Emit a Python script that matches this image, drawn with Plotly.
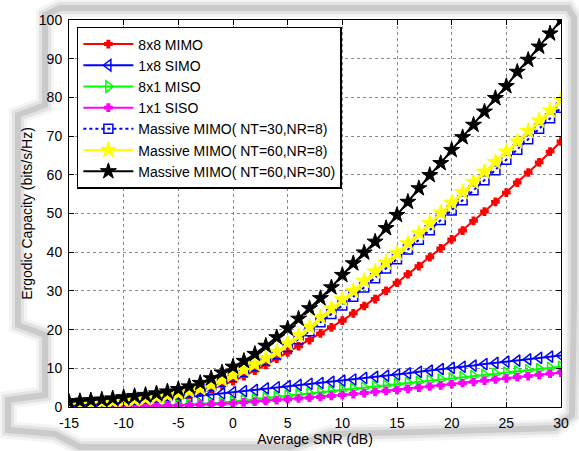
import plotly.graph_objects as go

snr_db = list(range(-15, 31))

mimo_8x8 = [0.3, 0.4, 0.5, 0.6, 0.7, 0.9, 1.1, 1.4, 1.7, 2.1, 2.5, 3.1, 3.8, 4.6, 5.6, 6.7,
            8.0, 9.4, 10.9, 12.5, 14.1, 15.7, 17.3, 19.0, 20.6, 22.3, 24.2, 26.1, 27.9, 30.0, 32.1,
            34.3, 36.4, 38.7, 41.0, 43.3, 45.6, 48.1, 50.5, 53.0, 55.4, 58.0, 60.6, 63.2, 66.0, 68.6]
simo_1x8 = [0.4, 0.5, 0.6, 0.7, 0.8, 1.0, 1.2, 1.4, 1.7, 2.0, 2.3, 2.6, 2.9, 3.2, 3.5, 3.8,
            4.1, 4.4, 4.8, 5.1, 5.4, 5.7, 6.0, 6.2, 6.5, 6.8, 7.1, 7.5, 7.8, 8.1, 8.4,
            8.7, 9.1, 9.4, 9.8, 10.1, 10.4, 10.7, 11.1, 11.4, 11.7, 12.0, 12.3, 12.7, 13.0, 13.3]
miso_8x1 = [0.05, 0.06, 0.08, 0.1, 0.12, 0.15, 0.2, 0.25, 0.3, 0.4, 0.5, 0.6, 0.75, 0.9, 1.1, 1.4,
            1.7, 2.0, 2.3, 2.6, 2.9, 3.2, 3.5, 3.8, 4.1, 4.4, 4.7, 5.0, 5.3, 5.6, 5.9,
            6.2, 6.5, 6.8, 7.1, 7.4, 7.7, 8.0, 8.3, 8.6, 8.9, 9.2, 9.5, 9.8, 10.1, 10.4]
siso_1x1 = [0.05, 0.06, 0.07, 0.09, 0.11, 0.14, 0.17, 0.21, 0.26, 0.32, 0.4, 0.5, 0.6, 0.7, 0.85, 1.0,
            1.2, 1.4, 1.6, 1.8, 2.0, 2.2, 2.4, 2.6, 2.85, 3.1, 3.35, 3.6, 3.9, 4.15, 4.4,
            4.7, 5.0, 5.3, 5.6, 5.9, 6.2, 6.5, 6.8, 7.1, 7.4, 7.7, 8.0, 8.3, 8.6, 8.9]
mm_30_8 = [1.0, 1.1, 1.2, 1.3, 1.5, 1.7, 1.9, 2.2, 2.5, 2.9, 3.3, 3.8, 4.5, 5.4, 6.5, 7.8,
           9.1, 10.5, 12.0, 13.6, 15.5, 17.5, 19.6, 21.9, 24.0, 26.2, 28.5, 30.9, 33.3, 35.8, 38.2,
           40.7, 43.2, 45.7, 48.3, 50.8, 53.4, 56.0, 58.6, 61.2, 63.9, 66.5, 69.2, 71.9, 74.6, 77.3]
mm_60_8 = [0.8, 0.9, 1.0, 1.2, 1.4, 1.6, 1.9, 2.2, 2.6, 3.0, 3.5, 4.1, 4.8, 5.8, 7.0, 8.3,
           9.6, 11.0, 12.6, 14.3, 16.4, 18.5, 20.7, 23.2, 25.5, 27.8, 30.0, 32.6, 35.0, 37.3, 39.7,
           42.3, 44.9, 47.5, 50.2, 52.8, 55.5, 58.1, 60.8, 63.3, 66.0, 68.6, 71.3, 74.0, 76.6, 79.3]
mm_60_30 = [1.3, 1.5, 1.7, 1.9, 2.2, 2.5, 2.8, 3.1, 3.5, 4.0, 4.6, 5.3, 6.2, 7.4, 8.9, 10.4,
            11.9, 13.7, 15.8, 18.0, 20.3, 22.8, 25.5, 28.1, 30.9, 34.1, 37.1, 39.9, 42.7, 46.2, 49.6,
            53.0, 56.5, 59.9, 63.0, 66.4, 69.7, 72.9, 76.3, 79.8, 82.9, 86.6, 89.7, 93.1, 96.5, 100.0]

x_ticks = [-15, -10, -5, 0, 5, 10, 15, 20, 25, 30]
x_tick_labels = ["-15", "-10", "-5", "0", "5", "10", "15", "20", "25", "30"]
y_ticks = [0, 10, 20, 30, 40, 50, 60, 70, 80, 90, 100]
y_tick_labels = ["0", "10", "20", "30", "40", "50", "60", "70", "80", "90", "100"]

series = [
    ("8x8 MIMO", mimo_8x8, "red", "solid", "cross", 6),
    ("1x8 SIMO", simo_1x8, "blue", "solid", "triangle-left-open", 10),
    ("8x1 MISO", miso_8x1, "#00ff00", "solid", "triangle-right-open", 10),
    ("1x1 SISO", siso_1x1, "magenta", "solid", "cross", 6),
    ("Massive MIMO( NT=30,NR=8)", mm_30_8, "blue", "dot", "square-open", 9),
    ("Massive MIMO( NT=60,NR=8)", mm_60_8, "yellow", "solid", "star", 12),
    ("Massive MIMO( NT=60,NR=30)", mm_60_30, "black", "solid", "star", 12),
]

FONT = "Liberation Sans, Arial, Helvetica"
fig = go.Figure()

# decorative soft shadow outline (pixel coords converted to paper)
L, R, T, B = 69, 561, 20, 407
def px(x, y):
    return (x - L) / (R - L), (B - y) / (B - T)
outline = [(60, 8), (568, 8), (574, 18), (574, 300), (572, 415), (555, 428), (420, 432),
           (330, 434), (290, 447), (80, 447), (55, 434), (8, 430), (8, 400), (45, 395), (45, 335),
           (18, 325), (18, 115), (45, 105), (45, 15)]
pts = [px(a, b) for a, b in outline]
path = "M " + " L ".join(f"{a:.4f},{b:.4f}" for a, b in pts) + " Z"
for w, op in [(18, 0.08), (12, 0.14), (6, 0.22)]:
    fig.add_shape(type="path", path=path, xref="paper", yref="paper",
                  line=dict(color=f"rgba(120,120,120,{op})", width=w), layer="below")

for name, vals, col, dash, sym, size in series:
    marker = dict(symbol=sym, size=size, color=col, line=dict(color=col, width=1.5))
    if sym == "star":
        marker["line"] = dict(color=col, width=1)
    fig.add_trace(go.Scatter(x=snr_db, y=vals, name=name, mode="lines+markers",
                             line=dict(color=col, width=2, dash=dash),
                             marker=marker))

axis_common = dict(showline=True, linecolor="black", linewidth=1, mirror="ticks",
                   ticks="inside", ticklen=5, tickcolor="black", automargin=False,
                   showgrid=True, gridcolor="#8a8a8a", griddash="dot", gridwidth=1,
                   zeroline=False, tickfont=dict(family=FONT, size=14, color="black"))

fig.update_xaxes(range=[-15, 30], tickvals=x_ticks, ticktext=x_tick_labels,
                 ticklabelstandoff=3,
                 title=dict(text="Average SNR (dB)", font=dict(family=FONT, size=14, color="black"), standoff=2),
                 **axis_common)
fig.update_yaxes(range=[0, 100], tickvals=y_ticks, ticktext=y_tick_labels,
                 ticklabelstandoff=3,
                 title=dict(text="Ergodic Capacity (bits/s/Hz)", font=dict(family=FONT, size=14, color="black"), standoff=2),
                 **axis_common)

fig.update_layout(
    width=579, height=451,
    margin=dict(l=L, r=579 - R, t=T, b=451 - B),
    paper_bgcolor="white", plot_bgcolor="white",
    showlegend=True,
    legend=dict(x=0.016, y=0.982, xanchor="left", yanchor="top",
                bgcolor="white", bordercolor="black", borderwidth=1.5,
                font=dict(family=FONT, size=14, color="black"),
                tracegroupgap=0, itemwidth=50),
    font=dict(family=FONT),
)

fig.write_html("out.html")
